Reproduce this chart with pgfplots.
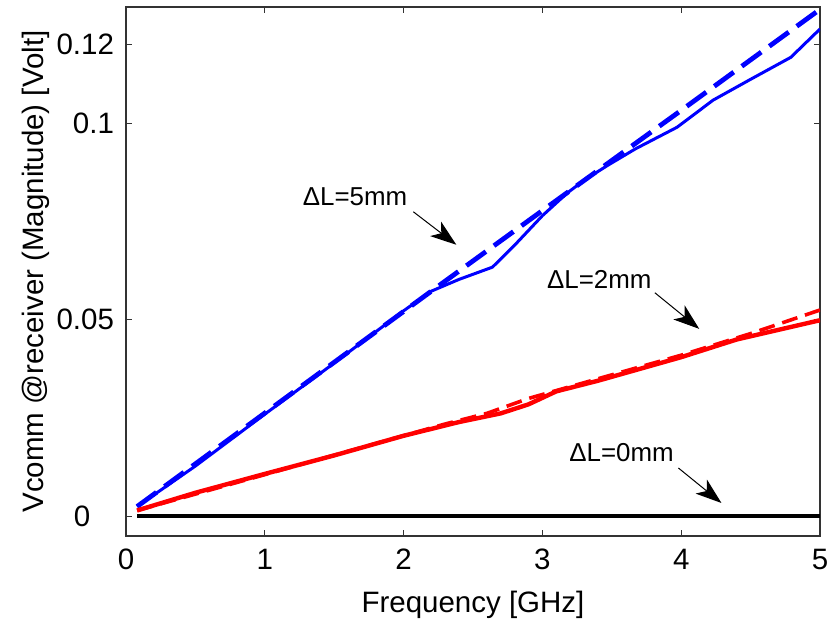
\documentclass[border=0pt]{standalone}
\usepackage{fontspec}
\setmainfont{Liberation Sans}
\usepackage{pgfplots}
\pgfplotsset{compat=1.18}
\usetikzlibrary{arrows.meta}
\definecolor{mblue}{RGB}{0,0,255}
\definecolor{mred}{RGB}{255,0,0}
\begin{document}
\begin{tikzpicture}[font=\fontsize{14.8}{17}\selectfont]
\begin{axis}[
  scale only axis,
  width=347bp, height=264.5bp,
  xmin=0, xmax=5, ymin=-0.005, ymax=0.1296,
  xtick={0,1,2,3,4,5},
  ytick={0,0.05,0.1,0.12},
  yticklabels={0\kern0.8em,0.05,0.1,0.12},
  /pgf/number format/assume math mode=true,
  scaled y ticks=false,
  tick align=inside,
  major tick length=3bp,
  xticklabel style={yshift=-3bp},
  yticklabel style={xshift=-2.5bp},
  axis line style={line width=0.8bp, black!80},
  tick style={line width=0.6bp, black!80},
  xlabel={Frequency [GHz]},
  ylabel={Vcomm @receiver (Magnitude) [Volt]},
  every axis x label/.style={at={(axis description cs:0.5,-0.1437)}, anchor=base},
  every axis y label/.style={at={(axis description cs:-0.1297,0.5)}, anchor=center, rotate=90},
  clip=true,
]
\addplot[mblue, line width=1.5bp] coordinates {
(0.08,0.0025) (0.5,0.0128) (1.0,0.0260) (1.5,0.0390) (2.0,0.0523) (2.2,0.0573)
(2.4,0.0603) (2.64,0.0634) (2.8,0.0690) (3.0,0.0765) (3.18,0.0823) (3.3,0.0855)
(3.47,0.0893) (3.67,0.0935) (3.97,0.0990) (4.23,0.1059) (4.5,0.1112) (4.79,0.1168) (5.0,0.1240)
};
\addplot[mblue, line width=2.4bp, dash pattern=on 12bp off 5bp] coordinates {
(0.08,0.0025) (2.2,0.0573) (3.0,0.0778) (4.0,0.1033) (5.0,0.1290)
};
\addplot[mred, line width=2.2bp] coordinates {
(0.08,0.0015) (0.5,0.0060) (1.0,0.0108) (1.5,0.0155) (2.0,0.0205) (2.4,0.0240)
(2.7,0.0262) (2.9,0.0285) (3.1,0.0318) (3.4,0.0345) (3.7,0.0375) (4.0,0.0405)
(4.4,0.0450) (5.0,0.0499)
};
\addplot[mred, line width=1.8bp, dash pattern=on 8bp off 4bp] coordinates {
(0.08,0.0015) (2.3,0.0235) (2.6,0.0262) (2.9,0.0300) (3.2,0.0330) (3.6,0.0370)
(4.0,0.0410) (4.5,0.0465) (5.0,0.0525)
};
\addplot[black, line width=2bp] coordinates {(0.08,0) (5.0,0)};

\node[font=\fontsize{13}{15}\selectfont] at (axis cs:1.65,0.0813) {ΔL=5mm};
\draw[black, line width=0.5bp, -{Stealth[length=13bp,width=9bp,inset=3.5bp]}] (axis cs:2.07,0.0775) -- (axis cs:2.38,0.0691);
\node[font=\fontsize{13}{15}\selectfont] at (axis cs:3.41,0.0604) {ΔL=2mm};
\draw[black, line width=0.5bp, -{Stealth[length=13bp,width=9bp,inset=3.5bp]}] (axis cs:3.81,0.0569) -- (axis cs:4.13,0.0477);
\node[font=\fontsize{13}{15}\selectfont] at (axis cs:3.57,0.0162) {ΔL=0mm};
\draw[black, line width=0.5bp, -{Stealth[length=13bp,width=9bp,inset=3.5bp]}] (axis cs:3.98,0.0123) -- (axis cs:4.29,0.0034);
\end{axis}
\pgfresetboundingbox
\path[use as bounding box] ([shift={(-63bp,-42bp)}]current axis.south west) rectangle ([shift={(8bp,3.5bp)}]current axis.north east);
\end{tikzpicture}
\end{document}
